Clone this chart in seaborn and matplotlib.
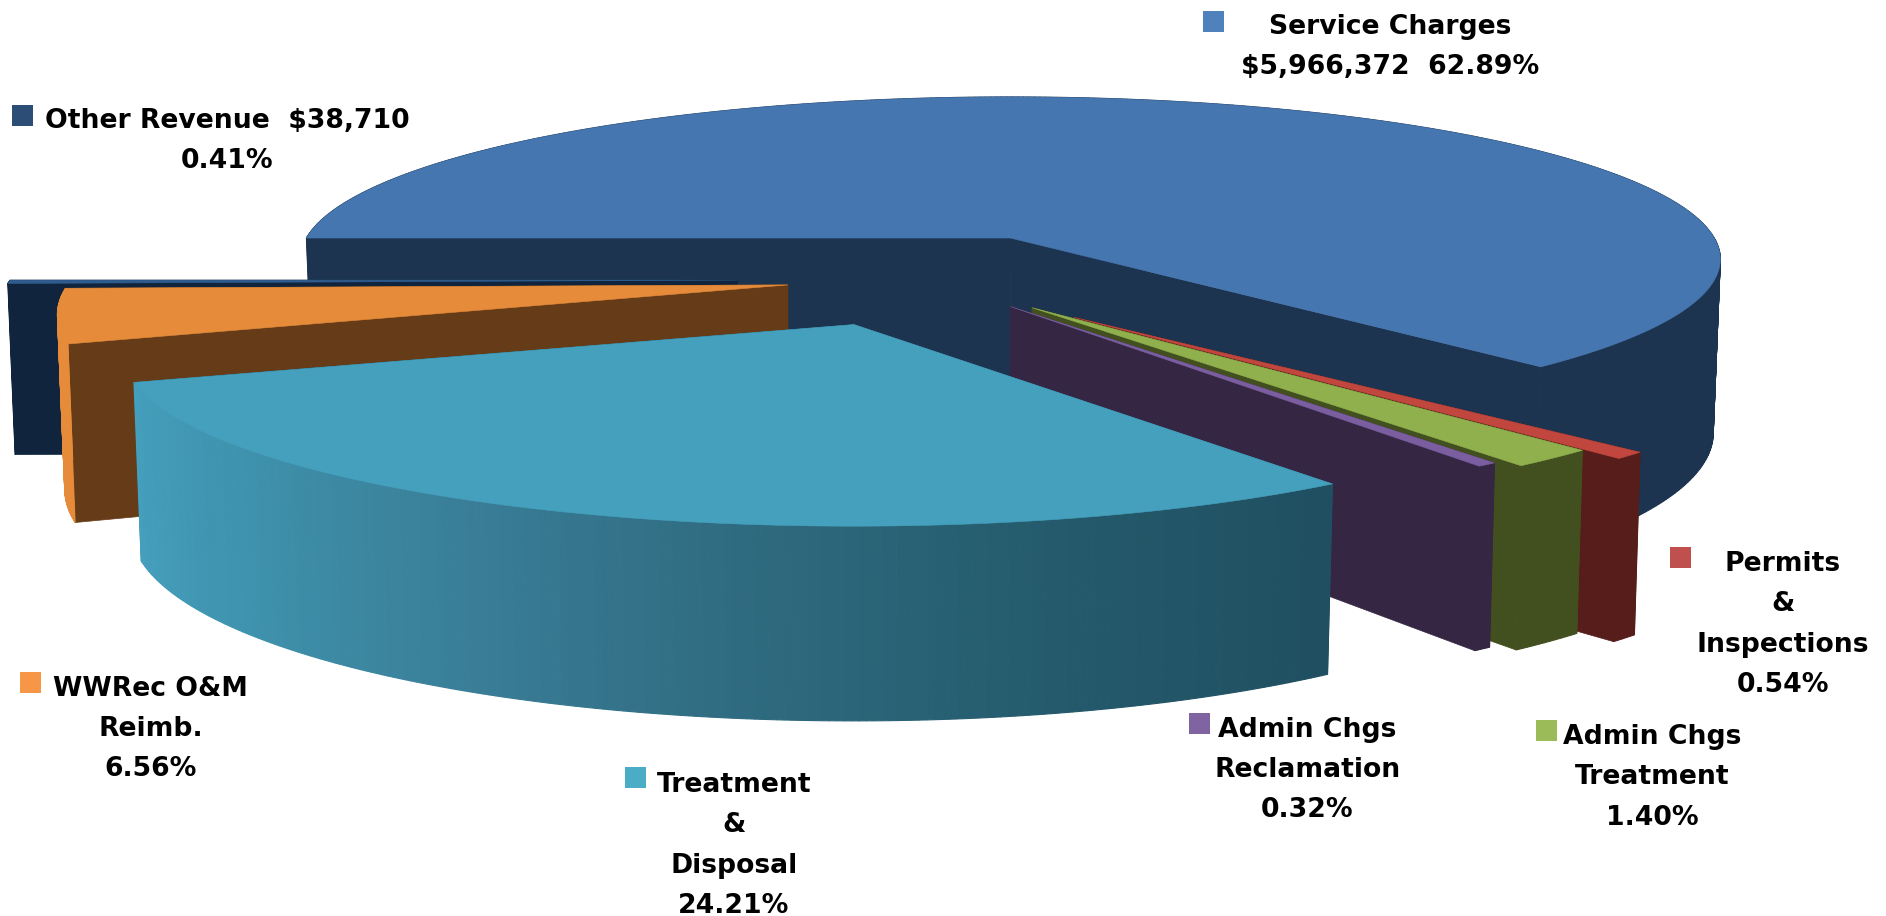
import numpy as np
import matplotlib
matplotlib.use("Agg")
import matplotlib.pyplot as plt
from matplotlib.patches import Polygon
import seaborn as sns

# ---- data ----
categories = ["Service Charges", "Permits & Inspections", "Admin Chgs Treatment",
              "Admin Chgs Reclamation", "Treatment & Disposal", "WWRec O&M Reimb.", "Other Revenue"]
shares = [62.89, 0.54, 1.40, 0.32, 24.21, 6.56, 0.41]
labels = ["Service Charges\n$5,966,372  62.89%",
          "Permits\n&\nInspections\n0.54%",
          "Admin Chgs\nTreatment\n1.40%",
          "Admin Chgs\nReclamation\n0.32%",
          "Treatment\n&\nDisposal\n24.21%",
          "WWRec O&M\nReimb.\n6.56%",
          "Other Revenue  $38,710\n0.41%"]

# ---- styling / layout (reference frame 1568 x 762) ----
legend_cols = ["#4F81BD", "#C0504D", "#9BBB59", "#8064A2", "#4BACC6", "#F79646", "#2C4D75"]
face_cols = ["#4676AF", "#C0463E", "#8FB04C", "#7A5EA0", "#45A0BD", "#E58B3A", "#2F5C8E"]
cut_cols = ["#1C3450", "#561D1A", "#424F1E", "#352643", "#24586A", "#663C18", "#10253D"]
rim_cols = ["#1C3450", "#561D1A", "#424F1E", "#352643", "#24586A", "#E58B3A", "#10253D"]
apex = [(840, 198), (893, 264), (858, 256), (840, 255), (710, 270), (655, 237), (613, 233)]
scale = [0.997, 1.0, 1.01, 1.0, 1.02, 1.02, 1.03]
persp = [0.13, 1/6, 1/6, 1/6, 1/6, 1/6, 1/6]
depth = [133, 140, 140, 140, 137, 140, 140]
wall_slope = [20, 14, 14, 14, 20, 20, 20]
end_overrun = [2, 0, 0, 0, 0, 0, 0]
WIDTH = 587
square_xy = [(1009, 18), (1397, 464), (1286, 608), (997, 602), (528, 647), (25, 568), (19, 96)]
text_xy = [(1156, 39), (1482, 519.5), (1374, 646.5), (1087, 640.5), (610, 703.5), (125, 606.5), (189, 117.5)]
# the drawn chart's sweep is not proportional: share -> screen angle knots
knot_share = [0, 62.89, 65.15, 89.36, 96.33]
knot_angle = [0, 225, 235, 341, 360]

sns.set_theme(style="white")
plt.rcParams["font.family"] = ["DejaVu Sans"]
fig = plt.figure(figsize=(18.86, 9.16), dpi=100)
ax = fig.add_axes([0, 0, 1, 1])

cum = np.concatenate([[0], np.cumsum(shares)])
ang = np.interp(cum, knot_share, knot_angle)


def rim(i, t):
    """Screen offset of a rim point, t in degrees (counter-clockwise)."""
    t = np.radians(t)
    x, y = np.cos(t), np.sin(t)
    w = 1 + persp[i] * y
    s = scale[i]
    return s * WIDTH * x / w, -s * depth[i] * y / w, y


def wedge(i, z):
    t0 = 180 - ang[i]
    t1 = 180 - ang[i + 1] - end_overrun[i]
    ts = np.linspace(t0, t1, max(int(abs(t1 - t0) * 2), 6))
    ax_, ay_ = apex[i]
    dx, dy, y = rim(i, ts)
    h = 142 + wall_slope[i] * np.maximum(-y, 0)
    top = np.column_stack([ax_ + dx, ay_ + dy])
    bot = np.column_stack([ax_ + 0.99 * dx, ay_ + dy + h])
    A_top = (ax_, ay_)
    A_bot = (ax_, ay_ + 142)

    def poly(pts, c):
        ax.add_patch(Polygon(pts, closed=True, fc=c, ec=c, lw=0.5, zorder=z))

    # both cut walls
    poly([A_top, top[0], bot[0], A_bot], cut_cols[i])
    poly([A_top, top[-1], bot[-1], A_bot], cut_cols[i])
    # outer wall in strips, so that the back of the ring cannot cancel the front
    n = len(ts) - 1
    if i == 4:
        grad = sns.blend_palette(["#1F4F60", "#245A6C", "#2F6B80", "#3A7F99", "#3F93AE", "#45A0BD"], n)
    else:
        grad = [rim_cols[i]] * n
    for j in range(n):
        ax.add_patch(Polygon([top[j], top[j + 1], bot[j + 1], bot[j]], closed=True,
                             fc=grad[j], ec=grad[j], lw=0.8, zorder=z))
    # top face
    ax.add_patch(Polygon(np.vstack([[A_top], top]), closed=True, fc=face_cols[i], ec=face_cols[i],
                         lw=0.4, zorder=z + 0.5))


# back to front
draw_order = [0, 6, 5, 1, 2, 3, 4]
for z, i in enumerate(draw_order):
    wedge(i, z + 2)

sns.scatterplot(x=[p[0] for p in square_xy], y=[p[1] for p in square_xy], hue=categories,
                palette=legend_cols, marker="s", s=230, linewidth=0, legend=False, ax=ax, zorder=20)
ax.set_xlim(0, 1568)
ax.set_ylim(762, 0)
ax.axis("off")

for (x, y), lab in zip(text_xy, labels):
    ax.text(x, y, lab, ha="center", va="center", ma="center", fontsize=19.2, fontweight="bold",
            color="black", linespacing=1.72, parse_math=False, zorder=21)

fig.savefig("out.png", dpi=100, facecolor="white")
